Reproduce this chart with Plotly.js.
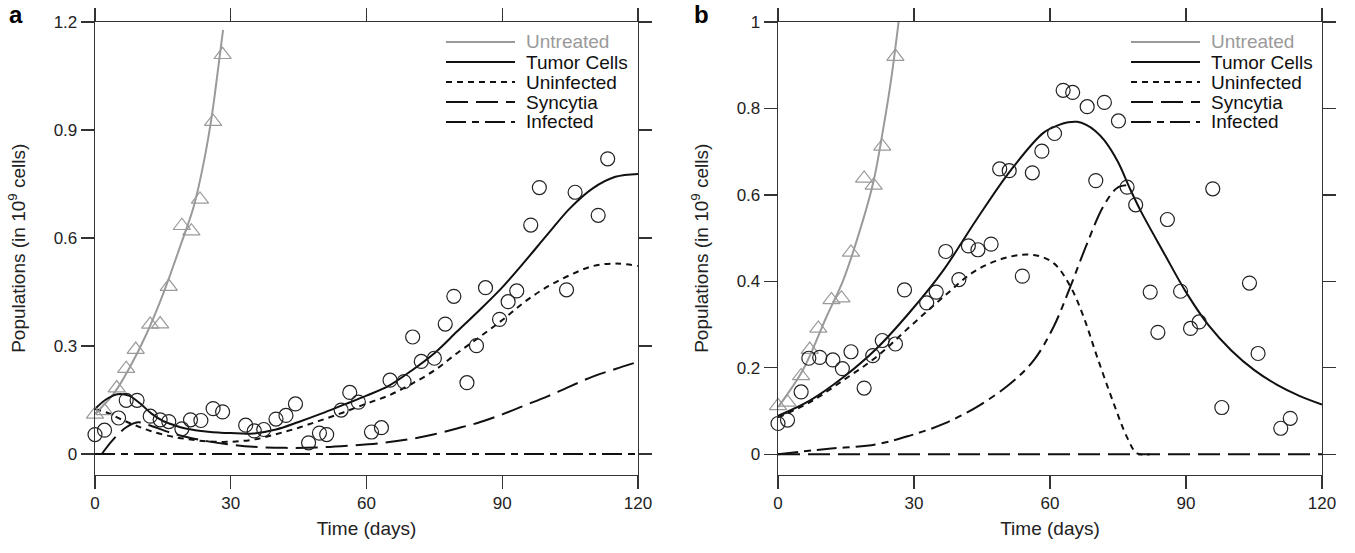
<!DOCTYPE html>
<html>
<head>
<meta charset="utf-8">
<script src="https://cdn.plot.ly/plotly-3.0.1.min.js"></script>
<style>html,body{margin:0;padding:0;background:#fff;}#chart{width:1355px;height:553px;}</style>
</head>
<body>
<div id="chart"></div>
<script>
// ---------- Panel a ----------
const obsA_t = [0, 2.1, 5.2, 6.9, 9.3, 12.2, 14.4, 16.3, 19.2, 21.1, 23.4, 26.1, 28.2, 33.3, 35.2, 37.3, 40, 42.2, 44.3, 47.2, 49.6, 51.2, 54.4, 56.3, 58.2, 61.1, 63.3, 65.2, 68.3, 70.2, 72.1, 75, 77.4, 79.3, 82.2, 84.3, 86.3, 89.4, 91.3, 93.2, 96.3, 98.2, 104.2, 106.1, 111.2, 113.3];
const obsA_v = [0.054, 0.066, 0.1, 0.149, 0.149, 0.105, 0.095, 0.09, 0.07, 0.095, 0.093, 0.126, 0.117, 0.08, 0.064, 0.068, 0.097, 0.107, 0.139, 0.031, 0.058, 0.054, 0.122, 0.171, 0.144, 0.061, 0.073, 0.205, 0.201, 0.325, 0.257, 0.266, 0.361, 0.438, 0.198, 0.301, 0.462, 0.374, 0.423, 0.453, 0.636, 0.74, 0.456, 0.727, 0.663, 0.82];
const untrObsA_t = [0, 2.1, 4.8, 6.9, 9, 12.2, 14.4, 16.3, 19.2, 21.3, 23.2, 26.1, 28.2];
const untrObsA_v = [0.11, 0.12, 0.183, 0.237, 0.29, 0.36, 0.361, 0.465, 0.634, 0.619, 0.707, 0.923, 1.109];

const untrA_t = [0, 4.1, 7.7, 11.4, 15.1, 18.8, 21.8, 24, 25.8, 26.9, 28.3];
const untrA_v = [0.112, 0.167, 0.241, 0.334, 0.446, 0.576, 0.687, 0.808, 0.938, 1.04, 1.178];
const tumorA_t = [0, 2.5, 5, 7.5, 10, 12.5, 15, 17.5, 20, 25, 30, 35, 40, 45, 50, 55, 60, 65, 70, 75, 80, 85, 90, 95, 100, 105, 110, 115, 120];
const tumorA_v = [0.125, 0.152, 0.166, 0.162, 0.14, 0.112, 0.092, 0.08, 0.071, 0.062, 0.058, 0.057, 0.068, 0.089, 0.112, 0.137, 0.162, 0.19, 0.232, 0.28, 0.34, 0.4, 0.463, 0.535, 0.61, 0.683, 0.738, 0.77, 0.778];
const uninfA_t = [0, 3, 6, 9, 12, 16, 20, 25, 30, 35, 40, 45, 50, 55, 60, 65, 70, 75, 80, 85, 90, 95, 100, 105, 110, 115, 120];
const uninfA_v = [0.125, 0.113, 0.095, 0.079, 0.065, 0.051, 0.042, 0.035, 0.034, 0.04, 0.055, 0.073, 0.094, 0.116, 0.14, 0.163, 0.195, 0.232, 0.28, 0.325, 0.372, 0.423, 0.465, 0.497, 0.522, 0.529, 0.522];
const syncA_t = [1.5, 4, 7, 9.5, 12, 16, 20, 25, 30, 35, 42, 49, 56, 63, 69, 75, 80, 85, 90, 95, 100, 105, 110, 115, 120];
const syncA_v = [0, 0.04, 0.075, 0.088, 0.08, 0.062, 0.048, 0.035, 0.026, 0.02, 0.017, 0.018, 0.023, 0.03, 0.04, 0.055, 0.071, 0.088, 0.11, 0.135, 0.16, 0.188, 0.215, 0.236, 0.256];
const infA_t = [0, 120];
const infA_v = [0, 0];

// ---------- Panel b ----------
const obsB_t = [0, 2.1, 5.1, 6.8, 9.2, 12.1, 14.2, 16.1, 19, 20.9, 23, 25.9, 27.9, 32.8, 34.9, 37, 39.9, 42, 44.1, 47, 48.9, 51, 53.9, 56.1, 58.2, 61, 62.9, 65, 68.2, 70.1, 72, 75.1, 77, 78.9, 82.1, 83.8, 85.9, 88.8, 91, 92.9, 95.9, 97.9, 104, 105.9, 110.9, 113];
const obsB_v = [0.071, 0.079, 0.144, 0.222, 0.224, 0.218, 0.198, 0.237, 0.153, 0.228, 0.263, 0.255, 0.38, 0.35, 0.375, 0.469, 0.404, 0.482, 0.473, 0.486, 0.66, 0.656, 0.412, 0.651, 0.701, 0.742, 0.842, 0.837, 0.804, 0.633, 0.814, 0.771, 0.618, 0.577, 0.375, 0.282, 0.543, 0.377, 0.291, 0.306, 0.614, 0.108, 0.396, 0.233, 0.06, 0.083];
const untrObsB_t = [0, 2.1, 5.1, 7, 8.9, 11.8, 14, 16.1, 19, 21.1, 23, 25.9];
const untrObsB_v = [0.112, 0.12, 0.181, 0.242, 0.291, 0.357, 0.361, 0.467, 0.638, 0.622, 0.712, 0.92];

const untrB_t = [0, 5.5, 10.7, 14.4, 18.1, 21, 23.2, 25, 26.6];
const untrB_v = [0.109, 0.195, 0.318, 0.403, 0.519, 0.628, 0.752, 0.87, 1.0];
const tumorB_t = [0, 7, 14.4, 21.7, 29.1, 36.5, 43.8, 51.2, 58.6, 62, 64, 66, 68, 70, 72, 75, 77.6, 80, 85, 90, 95, 100, 105, 110, 115, 120];
const tumorB_v = [0.089, 0.124, 0.178, 0.244, 0.329, 0.426, 0.543, 0.655, 0.744, 0.762, 0.768, 0.769, 0.762, 0.748, 0.726, 0.676, 0.615, 0.563, 0.468, 0.375, 0.298, 0.24, 0.195, 0.161, 0.135, 0.115];
const uninfB_t = [0, 7, 14.4, 21.7, 29.1, 36.5, 43.8, 51.2, 56.4, 60.8, 64.5, 67.4, 70.4, 74.1, 77, 79.2, 82];
const uninfB_v = [0.085, 0.12, 0.171, 0.225, 0.295, 0.364, 0.426, 0.457, 0.461, 0.442, 0.388, 0.318, 0.225, 0.116, 0.039, 0.002, 0];
const syncB_t = [0, 120];
const syncB_v = [0, 0];
const infB_t = [0, 10.7, 21.7, 29.1, 36.5, 43.8, 51.2, 56.4, 60.8, 64.5, 68.2, 71.8, 74.8, 76.8];
const infB_v = [0, 0.012, 0.023, 0.043, 0.07, 0.109, 0.163, 0.217, 0.295, 0.388, 0.488, 0.574, 0.616, 0.622];

const seriesNames = ['Untreated', 'Tumor Cells', 'Uninfected', 'Syncytia', 'Infected'];
const xTicks = [0, 30, 60, 90, 120];
const yTicksA = [0, 0.3, 0.6, 0.9, 1.2];
const yTickTextA = ['0', '0.3', '0.6', '0.9', '1.2'];
const yTicksB = [0, 0.2, 0.4, 0.6, 0.8, 1];
const yTickTextB = ['0', '0.2', '0.4', '0.6', '0.8', '1'];

// ---------- styles ----------
const GRAY = '#9a9a9a', BLK = '#111111';
const styles = [
  {color: GRAY, width: 2, dash: 'solid'},
  {color: BLK, width: 2, dash: 'solid'},
  {color: BLK, width: 2, dash: '6px,5px'},
  {color: BLK, width: 2, dash: '22px,8px'},
  {color: BLK, width: 2, dash: '20px,6px,7px,6px'}
];

function panel(xa, ya, curves, obsT, obsV, untT, untV) {
  const tr = [];
  curves.forEach((c, i) => {
    tr.push({x: c[0], y: c[1], xaxis: xa, yaxis: ya, mode: 'lines', name: seriesNames[i], showlegend: false,
      line: Object.assign({shape: 'spline', smoothing: 1}, styles[i]), hoverinfo: 'skip'});
  });
  tr.push({x: untT, y: untV, xaxis: xa, yaxis: ya, mode: 'markers', name: 'Untreated data', showlegend: false, cliponaxis: false,
    marker: {symbol: 'triangle-up-open', size: 15, color: GRAY, line: {width: 1.2, color: GRAY}}});
  tr.push({x: obsT, y: obsV, xaxis: xa, yaxis: ya, mode: 'markers', name: 'Treated data', showlegend: false, cliponaxis: false,
    marker: {symbol: 'circle-open', size: 14, color: '#222', line: {width: 1.2, color: '#222'}}});
  return tr;
}

const data = [].concat(
  panel('x', 'y', [[untrA_t, untrA_v], [tumorA_t, tumorA_v], [uninfA_t, uninfA_v], [syncA_t, syncA_v], [infA_t, infA_v]], obsA_t, obsA_v, untrObsA_t, untrObsA_v),
  panel('x2', 'y2', [[untrB_t, untrB_v], [tumorB_t, tumorB_v], [uninfB_t, uninfB_v], [syncB_t, syncB_v], [infB_t, infB_v]], obsB_t, obsB_v, untrObsB_t, untrObsB_v)
);

const W = 1355, H = 553;
const FONT = 'Liberation Sans, Arial, Helvetica, sans-serif';
const yDom = [(H - 474.5) / H, (H - 22) / H];
function xAxis(dom, anchor) {
  return {domain: dom, anchor: anchor, range: [0, 120], tickvals: xTicks, ticks: 'outside', ticklen: 13, tickwidth: 1.3,
    tickcolor: '#333', showline: true, linecolor: '#333', linewidth: 1.3, mirror: 'ticks', showgrid: false, zeroline: false,
    tickfont: {size: 17, color: '#222'}, title: {text: 'Time (days)', font: {size: 19, color: '#222'}, standoff: 9}};
}
function yAxis(range, tv, tt, anchor) {
  return {domain: yDom, anchor: anchor, range: range, tickvals: tv, ticktext: tt, ticks: 'outside', ticklen: 13, tickwidth: 1.3,
    tickcolor: '#333', showline: true, linecolor: '#333', linewidth: 1.3, mirror: 'ticks', showgrid: false, zeroline: false,
    tickfont: {size: 17, color: '#222'}, title: {text: 'Populations (in 10<sup>9</sup> cells)', font: {size: 19, color: '#222'}, standoff: 23}};
}

// manual legends (layout positions in pixels)
const legendRowsPx = [42, 62, 82, 102, 122];
const legendBoxes = [{x0: 446, x1: 515, tx: 524}, {x0: 1131, x1: 1200, tx: 1209}];
const shapes = [], annotations = [];
legendBoxes.forEach(b => {
  seriesNames.forEach((nm, i) => {
    const yp = 1 - legendRowsPx[i] / H;
    shapes.push({type: 'line', xref: 'paper', yref: 'paper', x0: b.x0 / W, x1: b.x1 / W, y0: yp, y1: yp,
      line: {color: styles[i].color, width: styles[i].width, dash: styles[i].dash}});
    annotations.push({text: nm, xref: 'paper', yref: 'paper', x: b.tx / W, y: yp, xanchor: 'left', yanchor: 'middle',
      showarrow: false, font: {size: 19, color: i === 0 ? GRAY : '#111'}});
  });
});
annotations.push({text: '<b>a</b>', xref: 'paper', yref: 'paper', x: 7 / W, y: 1 - 14 / H, xanchor: 'left', yanchor: 'middle', showarrow: false, font: {size: 24, color: '#000'}});
annotations.push({text: '<b>b</b>', xref: 'paper', yref: 'paper', x: 692 / W, y: 1 - 14 / H, xanchor: 'left', yanchor: 'middle', showarrow: false, font: {size: 24, color: '#000'}});

const layout = {
  width: W, height: H, margin: {l: 0, r: 0, t: 0, b: 0},
  paper_bgcolor: '#fff', plot_bgcolor: '#fff',
  font: {family: FONT, size: 17, color: '#222'},
  xaxis: xAxis([95 / W, 638 / W], 'y'),
  yaxis: yAxis([-0.057, 1.2], yTicksA, yTickTextA, 'x'),
  xaxis2: xAxis([778 / W, 1322 / W], 'y2'),
  yaxis2: yAxis([-0.047, 1], yTicksB, yTickTextB, 'x2'),
  shapes: shapes,
  annotations: annotations,
  showlegend: false
};

Plotly.newPlot('chart', data, layout, {staticPlot: true, displayModeBar: false});
</script>
</body>
</html>
